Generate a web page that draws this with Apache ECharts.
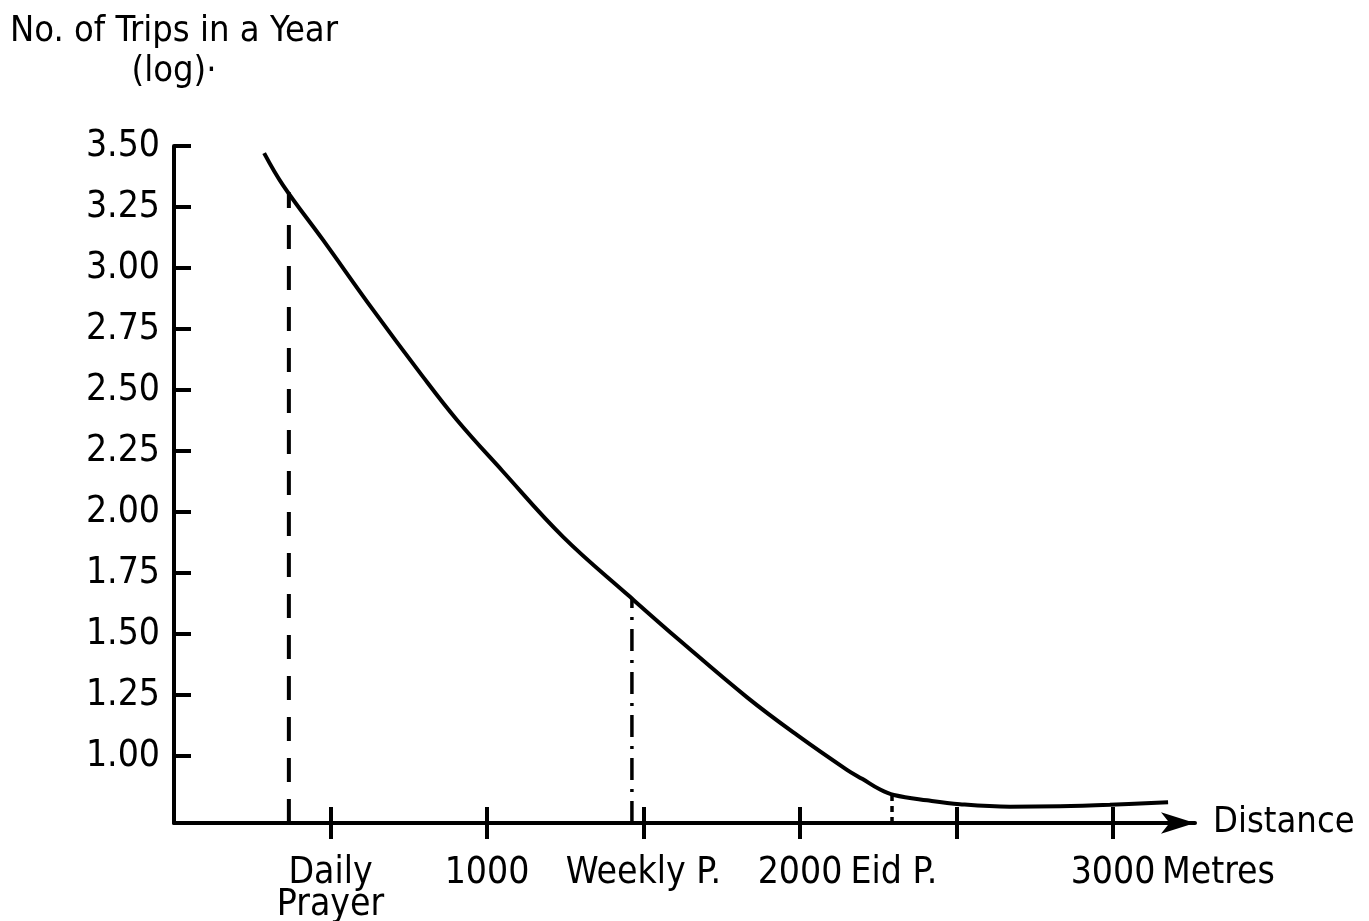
<!DOCTYPE html>
<html><head><meta charset="utf-8">
<script src="https://cdn.jsdelivr.net/npm/echarts@6/dist/echarts.min.js"></script>
<style>html,body{margin:0;padding:0;background:#fff}#c{width:1369px;height:921px}</style>
</head><body><div id="c"></div>
<script>
// Curve: distance (metres) vs log10(no. of trips in a year)
const distance = [288, 348, 476, 636, 786, 904, 1048, 1243, 1457, 1617, 1831, 1990, 2150, 2200, 2256, 2300, 2406, 2511, 2671, 2831, 2990, 3176];
const logTrips = [3.471, 3.340, 3.115, 2.828, 2.570, 2.377, 2.170, 1.898, 1.652, 1.472, 1.240, 1.086, 0.943, 0.905, 0.862, 0.840, 0.818, 0.802, 0.792, 0.794, 0.800, 0.810];

// Prayer reference lines
const prayerNames = ['Daily Prayer', 'Weekly P.', 'Eid P.'];
const prayerDistance = [367, 1463, 2294];
const prayerTop = [3.31, 1.645, 0.84];

// Axis ticks and labels
const xTickValues = [500, 1000, 1500, 2000, 2500, 3000];
const xLabelValues = [500, 1000, 1500, 2000, 2300, 3000];
const xLabelTexts = ['Daily\nPrayer', '1000', 'Weekly P.', '2000', 'Eid P.', '3000'];
const yTickValues = [1.00, 1.25, 1.50, 1.75, 2.00, 2.25, 2.50, 2.75, 3.00, 3.25, 3.50];
const yMin = 0.725, yMax = 3.5;
const xMin = 0, xMax = 3262;

const FONT = "'Liberation Sans Narrow', 'DejaVu Sans Condensed', 'Liberation Sans', sans-serif";
const INK = '#000';

const chart = echarts.init(document.getElementById('c'), null, {renderer: 'canvas'});

const dashStyles = [[24, 17], [22, 9, 3, 9], [6, 5]];
const dashWidths = [4, 3.5, 3.5];

const prayerSeries = prayerNames.map((n, i) => ({
  name: n,
  type: 'line',
  xAxisIndex: 0,
  symbol: 'none',
  silent: true,
  data: [[prayerDistance[i], yMin], [prayerDistance[i], prayerTop[i]]],
  lineStyle: {color: INK, width: dashWidths[i], type: dashStyles[i]},
  z: 3
}));

chart.setOption({
  animation: false,
  backgroundColor: '#fff',
  textStyle: {fontFamily: FONT, color: INK},
  grid: {left: 174, right: 174, top: 146, bottom: 98, containLabel: false, outerBoundsMode: 'none'},
  xAxis: [{
    type: 'value', min: xMin, max: xMax, position: 'bottom',
    name: 'Distance', nameLocation: 'end', nameGap: 18,
    nameTextStyle: {fontFamily: FONT, fontSize: 36, color: INK, verticalAlign: 'middle', padding: [16, 0, 0, 0]},
    axisLine: {show: true, symbol: ['none', 'arrow'], symbolSize: [16, 34], lineStyle: {color: INK, width: 4}},
    axisTick: {show: true, inside: false, length: 16, customValues: xTickValues, lineStyle: {color: INK, width: 4}},
    axisLabel: {
      show: true, customValues: xLabelValues, margin: 34,
      fontFamily: FONT, fontSize: 37, lineHeight: 32, color: INK,
      formatter: v => { const k = xLabelValues.indexOf(v); return k >= 0 ? xLabelTexts[k] : ''; }
    },
    splitLine: {show: false}
  }, {
    type: 'value', min: xMin, max: xMax, position: 'bottom', offset: 0,
    axisLine: {show: false},
    axisTick: {show: true, inside: true, length: 16, customValues: xTickValues, lineStyle: {color: INK, width: 4}},
    axisLabel: {show: false},
    splitLine: {show: false}
  }],
  yAxis: {
    type: 'value', min: yMin, max: yMax,
    name: 'No. of Trips in a Year\n(log)·', nameLocation: 'end', nameGap: 54,
    nameTextStyle: {fontFamily: FONT, fontSize: 36, lineHeight: 40, color: INK, align: 'center', verticalAlign: 'bottom'},
    axisLine: {show: true, lineStyle: {color: INK, width: 4}},
    axisTick: {show: true, inside: true, length: 17, customValues: yTickValues, lineStyle: {color: INK, width: 4}},
    axisLabel: {
      margin: 14, fontFamily: FONT, fontSize: 37, color: INK, customValues: yTickValues,
      formatter: v => v.toFixed(2)
    },
    splitLine: {show: false}
  },
  graphic: [{
    type: 'text', left: 1162, top: 855,
    style: {text: 'Metres', font: "37px " + FONT, fill: INK}
  }],
  series: [{
    name: 'Trips',
    type: 'line',
    xAxisIndex: 0,
    data: distance.map((d, i) => [d, logTrips[i]]),
    smooth: 0.4,
    symbol: 'none',
    silent: true,
    lineStyle: {color: INK, width: 4},
    z: 4
  }].concat(prayerSeries)
});
</script></body></html>
